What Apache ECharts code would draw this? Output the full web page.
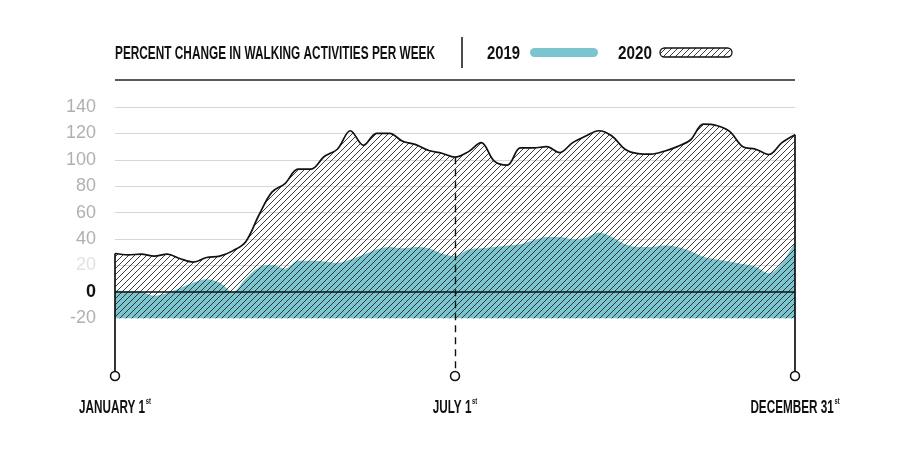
<!DOCTYPE html>
<html>
<head>
<meta charset="utf-8">
<script src="https://cdn.jsdelivr.net/npm/echarts@6/dist/echarts.min.js"></script>
<style>
html,body{margin:0;padding:0;background:#fff;}
#c{width:900px;height:450px;}
</style>
</head>
<body>
<div id="c"></div>
<script>
// ---- DATA ----
const weeks = ['0','1','2','3','4','5','6','7','8','9','10','11','12','13','14','15','16','17','18','19','20','21','22','23','24','25','26','27','28','29','30','31','32','33','34','35','36','37','38','39','40','41','42','43','44','45','46','47','48','49','50','51','52'];
const values2020 = [29,28,28.5,27,28.5,25,22.5,26,27,31,38,58,75.5,82,93,93,102.5,108,122,111,120,120,114,111.5,107,105,102,106,113,99,96,109,109,110,105.5,113,118,122,118,108,104.7,104.3,106.5,110,115,127,126,121.5,110,108,104,113,119];
const values2019 = [1,0.5,0,-3,-1,3,7,9.5,7,0,10,18.5,20.5,17.5,23.5,23.5,23,22,24.5,28,32,34,33,34,33,29,27,32,33,34,35,36,39,41.5,41.5,40,41,45,41.5,36,34,34,35,34,31,26.5,24.5,23,21,19,14,22,38];
const seriesNames = ['2019','2020'];
const titleText = 'PERCENT CHANGE IN WALKING ACTIVITIES PER WEEK';
const markWeeks = ['0','26','52'];
const dateLabels = ['JANUARY 1','JULY 1','DECEMBER 31'];
const dateSuffix = 'st';

// ---- STYLE ----
const FAMILY = "'Liberation Sans',Arial,sans-serif";
const TEAL = '#7cc5cf';
const INK = '#111';
function makeHatch(bg, fg, size, lw){
  const c = document.createElement('canvas');
  c.width = size; c.height = size;
  const g = c.getContext('2d');
  if (bg){ g.fillStyle = bg; g.fillRect(0,0,size,size); }
  g.strokeStyle = fg; g.lineWidth = lw;
  g.beginPath();
  g.moveTo(-1,size+1); g.lineTo(size+1,-1);
  g.moveTo(-1,1); g.lineTo(1,-1);
  g.moveTo(size-1,size+1); g.lineTo(size+1,size-1);
  g.stroke();
  return c;
}
const hatchClear = makeHatch(null,'#2a2a2a',6,0.9);
const hatchTeal = makeHatch(TEAL,'#1e2a2c',6,0.9);

const mctx = document.createElement('canvas').getContext('2d');
function fit(text, font, target){
  mctx.font = font;
  return target / mctx.measureText(text).width;
}

const chart = echarts.init(document.getElementById('c'), null, {renderer:'canvas'});
const idx = k => weeks.indexOf(k);

const TITLE_FONT = 'bold 17px ' + FAMILY;
const graphics = [
  {type:'text',x:115,y:45,scaleX:fit(titleText,TITLE_FONT,320),scaleY:1.08,style:{text:titleText,font:TITLE_FONT,fill:INK,textVerticalAlign:'top'}},
  {type:'line',shape:{x1:462,y1:37,x2:462,y2:68},style:{stroke:INK,lineWidth:1.5}},
  {type:'text',x:487,y:45,scaleX:fit(seriesNames[0],TITLE_FONT,33),scaleY:1.08,style:{text:seriesNames[0],font:TITLE_FONT,fill:INK,textVerticalAlign:'top'}},
  {type:'rect',shape:{x:530,y:48,width:68,height:9,r:4.5},style:{fill:TEAL}},
  {type:'text',x:618,y:45,scaleX:fit(seriesNames[1],TITLE_FONT,34),scaleY:1.08,style:{text:seriesNames[1],font:TITLE_FONT,fill:INK,textVerticalAlign:'top'}},
  {type:'rect',shape:{x:660,y:48,width:72,height:9,r:4.5},style:{fill:{type:'pattern',image:hatchClear,repeat:'repeat'},stroke:INK,lineWidth:1.3}},
  {type:'line',shape:{x1:115,y1:80,x2:795,y2:80},style:{stroke:'#222',lineWidth:1.5}}
];

const option = {
  animation:false,
  backgroundColor:'#fff',
  grid:{left:115,right:105,top:107,bottom:79},
  xAxis:{
    type:'category', data:weeks, boundaryGap:false,
    axisLine:{show:false}, axisTick:{show:false}, splitLine:{show:false},
    axisLabel:{show:false}
  },
  yAxis:{
    type:'value', min:-60, max:140, interval:20,
    axisLine:{show:false}, axisTick:{show:false},
    splitLine:{show:true,lineStyle:{color:['rgba(0,0,0,0)','rgba(0,0,0,0)','rgba(0,0,0,0)','rgba(0,0,0,0)','#d6d6d6','#d6d6d6','#d6d6d6','#d6d6d6','#d6d6d6','#d6d6d6','#d6d6d6'],width:1}},
    axisLabel:{
      margin:19,
      formatter:v => v < -20 ? '' : (v === 20 ? '{l|20}' : (v === 0 ? '{z|0}' : '{g|'+v+'}')),
      rich:{
        g:{fontFamily:FAMILY,fontSize:18,color:'#b0b0b0'},
        l:{fontFamily:FAMILY,fontSize:18,color:'#e2e2e2'},
        z:{fontFamily:FAMILY,fontSize:18,fontWeight:'bold',color:INK}
      }
    }
  },
  series:[
    {
      name:seriesNames[1], type:'line', data:values2020, smooth:0.35,
      showSymbol:false, silent:true, z:2,
      lineStyle:{color:INK,width:1.7},
      areaStyle:{color:{image:hatchClear,repeat:'repeat'},origin:-20,opacity:1},
      markLine:{
        silent:true, symbol:'none', label:{show:false},
        data:[
          [{coord:['0',values2020[idx('0')]],lineStyle:{color:INK,width:1.7,type:'solid'}},{coord:['0',-60]}],
          [{coord:['52',values2020[idx('52')]],lineStyle:{color:INK,width:1.7,type:'solid'}},{coord:['52',-60]}],
          [{coord:['26',values2020[idx('26')]],lineStyle:{color:INK,width:1.4,type:[7,5]}},{coord:['26',-60]}]
        ]
      },
      markPoint:{
        silent:true, symbol:'circle', symbolSize:9, symbolOffset:[0,5], label:{show:false},
        itemStyle:{color:'#fff',borderColor:INK,borderWidth:1.5},
        data: markWeeks.map(w => ({coord:[w,-60]}))
      }
    },
    {
      name:seriesNames[0], type:'line', data:values2019, smooth:0.35,
      showSymbol:false, silent:true, z:3,
      lineStyle:{width:0,color:TEAL},
      areaStyle:{color:{image:hatchTeal,repeat:'repeat'},origin:-20,opacity:1},
      markLine:{
        silent:true, symbol:'none', label:{show:false},
        lineStyle:{color:INK,width:1.5,type:'solid'},
        data:[{yAxis:0}]
      }
    }
  ],
  graphic:graphics
};
chart.setOption(option);

// date labels below the axis, positioned through the x scale
const LABEL_FONT = 'bold 18px ' + FAMILY;
const labelScale = fit(dateLabels[0], LABEL_FONT, 66);
const dateGraphics = markWeeks.map((w,i) => ({
  type:'text',
  x: chart.convertToPixel({xAxisIndex:0}, w),
  y: 396,
  scaleX: labelScale,
  scaleY: 1.05,
  style:{
    text:'{m|'+dateLabels[i]+'}{s|'+dateSuffix+'}',
    align:'center', verticalAlign:'top',
    rich:{
      m:{fontFamily:FAMILY,fontSize:18,fontWeight:'bold',fill:INK,lineHeight:20,verticalAlign:'bottom'},
      s:{fontFamily:FAMILY,fontSize:9,fontWeight:'bold',fill:INK,lineHeight:20,verticalAlign:'top',padding:[1,0,0,1]}
    }
  }
}));
chart.setOption({graphic:graphics.concat(dateGraphics)});
</script>
</body>
</html>
